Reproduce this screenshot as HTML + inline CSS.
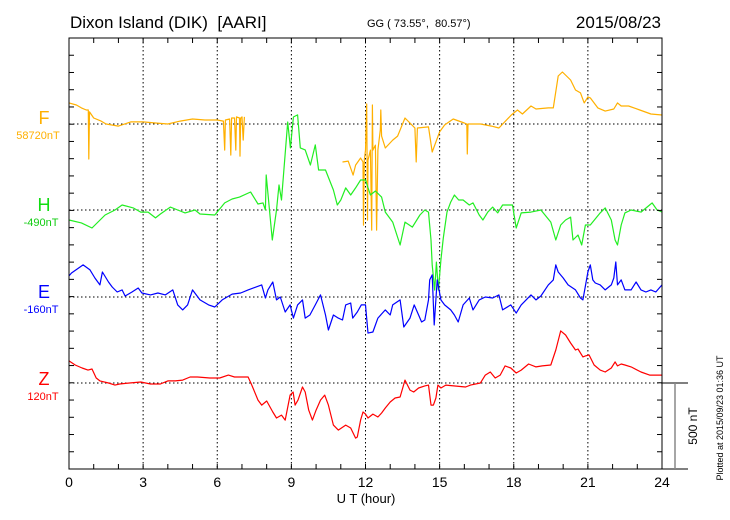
<!DOCTYPE html>
<html><head><meta charset="utf-8">
<style>
html,body{margin:0;padding:0;background:#fff;}
svg{display:block;font-family:"Liberation Sans",sans-serif;}
</style></head>
<body>
<svg id="chart" width="730" height="520" viewBox="0 0 730 520" xmlns="http://www.w3.org/2000/svg">
<text x="70" y="28" font-size="17">Dixon Island (DIK) &#160;[AARI]</text>
<text x="367" y="27" font-size="11">GG ( 73.55°, &#160;80.57°)</text>
<text x="661" y="28" font-size="17" text-anchor="end">2015/08/23</text>
<g id="grid"></g>
<g id="series"></g>
<rect x="69" y="38" width="593" height="431" fill="none" stroke="#000" stroke-width="1"/>
<g id="ticks"></g>
<g><text x="44" y="124" font-size="18" fill="#ffb000" text-anchor="middle">F</text><text x="38" y="139" font-size="11" fill="#ffb000" text-anchor="middle">58720nT</text></g>
<g><text x="44" y="211" font-size="18" fill="#11dd11" text-anchor="middle">H</text><text x="41" y="226" font-size="11" fill="#11cc11" text-anchor="middle">-490nT</text></g>
<g><text x="44" y="298" font-size="18" fill="#0000ff" text-anchor="middle">E</text><text x="41" y="313" font-size="11" fill="#0000ff" text-anchor="middle">-160nT</text></g>
<g><text x="44" y="385" font-size="18" fill="#ff0000" text-anchor="middle">Z</text><text x="43" y="400" font-size="11" fill="#ff0000" text-anchor="middle">120nT</text></g>
<text x="366" y="503" font-size="13" text-anchor="middle">U T (hour)</text>
<g>
<line x1="662" y1="383" x2="688" y2="383" stroke="#000"/>
<line x1="662" y1="469" x2="688" y2="469" stroke="#000"/>
<line x1="675" y1="383" x2="675" y2="469" stroke="#888" stroke-width="1.5"/>
<text x="693" y="426" font-size="12" transform="rotate(-90 693 426)" text-anchor="middle" dominant-baseline="central">500 nT</text>
</g>
<text x="720" y="418" font-size="9" transform="rotate(-90 720 418)" text-anchor="middle" dominant-baseline="central">Plotted at 2015/09/23 01:36 UT</text>
</svg>
<script>
const xTicks=[0,3,6,9,12,15,18,21,24];
const baselines=[124,210,297,383];
const Ft=[0,0.3,0.5,0.7,0.78,0.8,0.83,1.0,1.3,1.5,2.0,2.5,3.0,3.5,4.0,4.5,5.0,5.5,6.0,6.25,6.3,6.33,6.5,6.55,6.58,6.7,6.75,6.78,6.9,6.92,6.95,7.0,7.05,7.1,9.0,11.07,11.3,11.5,11.6,11.8,11.9,11.92,11.95,12.0,12.05,12.08,12.1,12.2,12.25,12.28,12.3,12.4,12.45,12.5,12.6,12.62,12.65,12.8,13.1,13.3,13.6,14.0,14.05,14.1,14.55,14.7,15.0,15.2,15.55,16.0,16.1,16.12,16.15,16.65,17.1,17.4,17.9,18.15,18.35,18.7,18.9,19.4,19.6,19.8,19.97,20.3,20.5,20.7,20.85,21.0,21.1,21.4,21.7,22.05,22.2,22.35,22.65,23.1,23.55,24];
const Fv=[122,110,93,81,81,-203,70,35,17,0,-12,12,12,6,0,17,29,23,23,17,-151,23,29,-180,35,35,-151,41,35,-186,35,41,-93,41,null,-220,-215,-296,-238,-197,-220,-586,-209,-151,116,-557,-209,-151,-615,110,-151,-122,-615,-151,-35,81,-70,-139,-93,-70,35,-23,-220,-23,-17,-162,-46,-6,29,6,0,-174,0,0,-12,-23,52,81,58,104,87,93,93,278,301,255,197,180,122,157,151,93,75,87,122,104,104,81,58,52];
const Ht=[0,0.5,0.93,1.46,1.86,2.15,2.6,2.9,3.2,3.5,3.7,4.1,4.4,4.7,5.1,5.3,5.9,6.3,6.6,6.9,7.35,7.65,7.85,7.95,7.98,8.23,8.4,8.5,8.6,8.85,8.96,9.08,9.25,9.36,9.56,9.77,9.97,10.1,10.38,10.7,10.86,11.0,11.2,11.4,11.6,11.8,12.0,12.2,12.4,12.65,12.8,13.1,13.4,13.6,13.9,14.2,14.4,14.55,14.65,14.7,14.8,14.87,14.95,15.05,15.15,15.3,15.45,15.6,15.77,15.95,16.2,16.35,16.6,16.75,16.95,17.15,17.35,17.55,17.95,18.1,18.3,18.7,19.1,19.5,19.7,19.9,20.1,20.3,20.4,20.6,20.75,20.9,21.1,21.5,21.7,21.95,22.1,22.2,22.35,22.5,22.75,23.15,23.5,23.6,23.8,24];
const Hv=[-58,-75,-104,-29,0,29,12,-12,-12,-46,-23,17,0,-17,0,-23,-29,41,64,75,104,35,41,0,203,-174,0,145,58,510,360,539,551,360,348,261,377,232,232,116,29,58,128,87,128,174,174,87,110,75,-12,-70,-203,-70,-99,-29,0,-12,-174,-319,-464,-302,-464,-290,-162,-12,46,87,58,58,29,41,-29,-58,-12,17,-17,29,29,-104,-17,-12,0,-70,-174,-87,-58,-41,-174,-145,-203,-87,-87,-17,12,-58,-174,-203,-87,-17,0,-12,29,41,0,-12];
const Et=[0,0.1,0.57,0.85,1.05,1.25,1.35,1.6,1.75,1.95,2.15,2.27,2.55,2.8,2.95,3.3,3.6,3.9,4.2,4.4,4.6,4.8,5.0,5.3,5.65,5.9,6.2,6.6,6.95,7.25,7.8,7.95,8.05,8.25,8.4,8.55,8.75,8.95,9.08,9.25,9.45,9.56,9.75,9.97,10.18,10.38,10.5,10.7,10.9,11.07,11.2,11.4,11.48,11.67,11.83,12.0,12.1,12.3,12.5,12.8,13.0,13.1,13.4,13.55,13.8,13.97,14.15,14.27,14.4,14.55,14.6,14.7,14.78,14.9,15.05,15.2,15.45,15.6,15.75,15.95,16.2,16.35,16.6,16.85,17.15,17.4,17.55,17.88,18.1,18.3,18.5,18.7,18.9,19.1,19.4,19.6,19.7,19.8,20.0,20.2,20.5,20.7,20.8,21.0,21.1,21.2,21.3,21.5,21.7,21.95,22.05,22.13,22.2,22.35,22.5,22.75,22.95,23.15,23.35,23.55,23.75,24];
const Ev=[122,139,186,157,110,70,145,87,58,29,41,6,29,52,23,12,23,12,41,-46,-75,-46,41,-17,-46,-58,-17,17,23,41,70,-6,41,87,-17,0,-87,-46,-122,-46,-17,-122,-104,-46,12,-104,-191,-104,-122,-133,-46,-35,-122,-87,-46,-46,-209,-203,-122,-75,-104,-46,-17,-174,-122,-46,-104,-145,-133,-17,99,128,-162,99,-17,-46,-75,-104,-145,-46,-6,-75,-17,0,-6,12,-75,-46,-93,-46,-17,12,-17,6,70,99,186,145,110,70,41,-6,-17,145,186,99,81,70,41,70,110,203,70,99,41,41,87,41,29,41,29,70];
const Zt=[0,0.25,0.53,0.77,0.93,1.1,1.25,1.6,1.86,2.05,2.45,2.9,3.3,3.7,4.0,4.3,4.6,4.9,5.2,5.7,6.1,6.45,6.7,7.25,7.4,7.65,7.8,8.0,8.25,8.4,8.6,8.75,8.95,9.07,9.15,9.27,9.45,9.56,9.7,9.85,10.0,10.18,10.35,10.5,10.7,10.9,11.2,11.4,11.6,11.67,11.8,11.9,12.0,12.1,12.3,12.5,12.65,12.8,13.0,13.2,13.4,13.6,13.8,13.95,14.15,14.4,14.55,14.65,14.75,14.85,14.93,15.05,15.25,16.05,16.25,16.65,16.85,17.05,17.25,17.45,17.65,17.88,18.1,18.3,18.6,18.9,19.15,19.5,19.7,19.9,20.1,20.3,20.5,20.6,20.8,20.9,21.05,21.25,21.5,21.7,21.95,22.1,22.2,22.35,22.5,22.75,23.15,23.5,23.8,24];
const Zv=[128,104,87,75,81,29,12,0,-12,-6,0,6,-6,-6,12,12,17,35,35,29,29,46,35,35,-12,-99,-128,-104,-168,-203,-186,-215,-70,-52,-128,-99,-23,-52,-157,-215,-157,-99,-70,-128,-244,-273,-244,-261,-319,-313,-215,-168,-180,-203,-180,-197,-174,-145,-110,-87,-81,17,-41,-52,-29,-17,-12,-128,-128,-87,-12,-29,-12,-23,-12,0,46,64,29,46,99,87,58,75,110,93,99,104,191,302,278,232,191,197,151,157,162,104,75,64,87,122,99,110,104,93,64,46,46,46];
const seriesT=[Ft,Ht,Et,Zt];
const seriesV=[Fv,Hv,Ev,Zv];
const seriesNames=['series-f','series-h','series-e','series-z'];
const colors=['#ffb000','#22ee22','#0000ff','#ff0000'];

const NS='http://www.w3.org/2000/svg';
const X0=69,X1=662,Y0=38,Y1=469;
const pxPerNT=86.3/500;
function xs(t){return X0+t*(X1-X0)/24;}
function ys(i,v){return baselines[i]-v*pxPerNT;}
function mk(tag,attrs,parent){const e=document.createElementNS(NS,tag);for(const k in attrs)e.setAttribute(k,attrs[k]);parent.appendChild(e);return e;}
const grid=document.getElementById('grid'),ticks=document.getElementById('ticks'),ser=document.getElementById('series');
xTicks.forEach(t=>{
  if(t>0&&t<24){const l=mk('line',{x1:xs(t),y1:Y0,x2:xs(t),y2:Y1,stroke:'#000','stroke-width':1,'stroke-dasharray':'1.5,2.5'},grid);
  
  }
  const tx=mk('text',{x:xs(t),y:487,'font-size':14,'text-anchor':'middle'},ticks);
  tx.textContent=String(t);
  
  
});
baselines.forEach(b=>{
  const l=mk('line',{x1:X0,y1:b,x2:X1,y2:b,stroke:'#000','stroke-width':1,'stroke-dasharray':'1.5,2.5'},grid);
  
  
});
for(let h=1;h<24;h++){
  mk('line',{x1:xs(h),y1:Y0,x2:xs(h),y2:Y0+5,stroke:'#000'},ticks);
  mk('line',{x1:xs(h),y1:Y1,x2:xs(h),y2:Y1-5,stroke:'#000'},ticks);
}
for(let k=1;k<25;k++){
  const y=Y0+k*(Y1-Y0)/25;
  mk('line',{x1:X0,y1:y,x2:X0+5,y2:y,stroke:'#000'},ticks);
  mk('line',{x1:X1,y1:y,x2:X1-5,y2:y,stroke:'#000'},ticks);
}
seriesT.forEach((T,i)=>{
  const V=seriesV[i];let d='',pen=false;
  for(let j=0;j<T.length;j++){
    if(V[j]===null){pen=false;continue;}
    d+=(pen?'L':'M')+xs(T[j]).toFixed(1)+','+ys(i,V[j]).toFixed(1);pen=true;
  }
  const p=mk('path',{d:d,fill:'none',stroke:colors[i],'stroke-width':1.2,'stroke-linejoin':'round'},ser);
  
  
});
</script>
</body></html>
